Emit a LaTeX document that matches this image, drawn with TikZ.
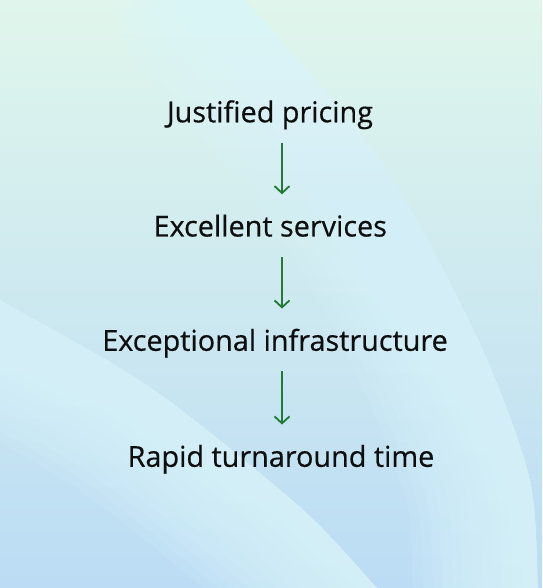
\documentclass[tikz,border=0pt]{standalone}
\usepackage{fontspec}
\setmainfont{Open Sans}[FakeBold=0.5]
\usetikzlibrary{arrows.meta}
\definecolor{bgtop}{HTML}{E0F6EC}
\definecolor{bgbot}{HTML}{BBDCF4}
\definecolor{glow}{HTML}{DAF5FD}
\definecolor{arrowgreen}{HTML}{217A36}
\definecolor{ink}{HTML}{0E0E0E}

\begin{document}
\begin{tikzpicture}[
  x=1pt, y=1pt,
  item/.style={font=\fontsize{28.8}{32}\selectfont, text=ink, inner sep=0pt, text height=20.3pt, text depth=0pt, anchor=south},
  arr/.style={-{Straight Barb[length=7pt,width=15pt]}, line width=1.8pt, draw=arrowgreen, shorten <=20.5pt, shorten >=21.7pt},
  glowline/.style={draw=glow, opacity=0.14}
]
\shade[top color=bgtop, bottom color=bgbot] (0,0) rectangle (542,588);
\useasboundingbox (0,0) rectangle (542,588);

% big light band, right
\begin{scope}
  \clip plot[smooth] coordinates {(240,600) (245,588) (333,488) (400,398) (483,238) (530,108) (538,0) (539,-10)} -- (-10,-10) -- (-10,600) -- cycle;
  \foreach \w in {10,30,...,250}
    \draw[glowline, line width=\w pt] plot[smooth] coordinates {(240,600) (245,588) (333,488) (400,398) (483,238) (530,108) (538,0) (539,-10)};
\end{scope}

% light band, lower left
\begin{scope}
  \clip plot[smooth] coordinates {(-10,294) (0,288) (150,201) (300,81) (377,0) (385,-8)} -- (-10,-10) -- cycle;
  \foreach \w in {10,30,...,250}
    \draw[glowline, line width=\w pt] plot[smooth] coordinates {(-10,294) (0,288) (150,201) (300,81) (377,0) (385,-8)};
\end{scope}

\node[item] (jp) at (270,465.5) {Justified pricing};
\node[item] (es) at (270.3,351.3) {Excellent services};
\node[item] (ei) at (275,237) {Exceptional infrastructure};
\node[item] (rt) at (281,121) {Rapid turnaround time};
\coordinate (ax) at (282,0);

\draw[arr] (jp.south -| ax) -- (es.north -| ax);
\draw[arr] (es.south -| ax) -- (ei.north -| ax);
\draw[arr] (ei.south -| ax) -- (rt.north -| ax);
\end{tikzpicture}
\end{document}
